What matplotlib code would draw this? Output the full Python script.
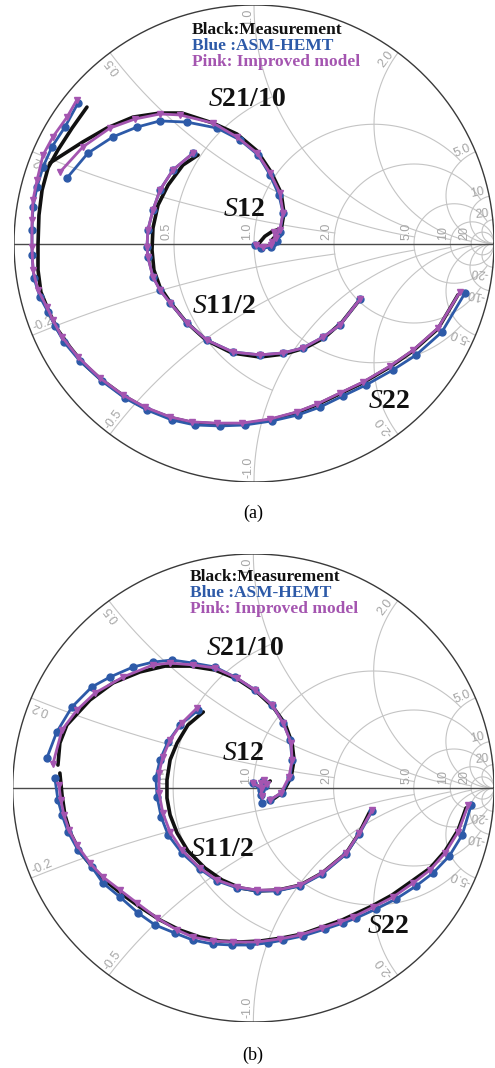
import numpy as np
import matplotlib.pyplot as plt

plt.rcParams['mathtext.fontset'] = 'custom'
plt.rcParams['mathtext.rm'] = 'Liberation Serif'
plt.rcParams['mathtext.it'] = 'Liberation Serif:italic'
plt.rcParams['mathtext.bf'] = 'Liberation Serif:bold'

# ---- data: reflection coefficients (re, im) ----
# chart (a)
A_S22_MEAS = [(-0.696, 0.572), (-0.758, 0.484), (-0.817, 0.392), (-0.858, 0.317), (-0.883, 0.224),
              (-0.896, 0.119), (-0.900, -0.006), (-0.900, -0.111), (-0.888, -0.203), (-0.854, -0.287),
              (-0.817, -0.363), (-0.767, -0.434), (-0.717, -0.497), (-0.642, -0.566), (-0.546, -0.637),
              (-0.454, -0.690), (-0.350, -0.730), (-0.258, -0.751), (-0.154, -0.757), (-0.050, -0.757),
              (0.067, -0.740), (0.179, -0.709), (0.263, -0.676), (0.358, -0.630), (0.454, -0.584),
              (0.567, -0.517), (0.663, -0.450), (0.767, -0.357), (0.850, -0.215)]
A_S22_ASM = [(-0.733, 0.589), (-0.788, 0.488), (-0.842, 0.405), (-0.879, 0.321), (-0.904, 0.237),
             (-0.921, 0.153), (-0.925, 0.057), (-0.925, -0.048), (-0.917, -0.145), (-0.892, -0.224),
             (-0.858, -0.287), (-0.829, -0.346), (-0.792, -0.413), (-0.725, -0.493), (-0.633, -0.577),
             (-0.538, -0.648), (-0.446, -0.698), (-0.342, -0.740), (-0.246, -0.761), (-0.142, -0.765),
             (-0.038, -0.761), (0.075, -0.744), (0.183, -0.719), (0.275, -0.686), (0.371, -0.639),
             (0.467, -0.593), (0.579, -0.530), (0.675, -0.468), (0.783, -0.371), (0.879, -0.208)]
A_S22_IMP = [(-0.738, 0.602), (-0.779, 0.530), (-0.838, 0.447), (-0.879, 0.371), (-0.904, 0.266),
             (-0.921, 0.182), (-0.925, 0.099), (-0.925, -0.015), (-0.921, -0.111), (-0.900, -0.195),
             (-0.863, -0.266), (-0.838, -0.321), (-0.800, -0.392), (-0.733, -0.476), (-0.642, -0.564),
             (-0.546, -0.635), (-0.454, -0.686), (-0.350, -0.727), (-0.258, -0.748), (-0.154, -0.753),
             (-0.050, -0.753), (0.067, -0.736), (0.179, -0.706), (0.263, -0.673), (0.358, -0.627),
             (0.454, -0.581), (0.567, -0.514), (0.663, -0.447), (0.767, -0.354), (0.858, -0.203)]

A_S21_MEAS = [(-0.850, 0.338), (-0.713, 0.426), (-0.613, 0.484), (-0.504, 0.530), (-0.392, 0.547),
              (-0.300, 0.547), (-0.171, 0.505), (-0.071, 0.459), (0.013, 0.388), (0.071, 0.300),
              (0.113, 0.212), (0.125, 0.128), (0.113, 0.057), (0.075, 0.015)]
A_S21_ASM = [(-0.779, 0.275), (-0.692, 0.379), (-0.588, 0.447), (-0.488, 0.488), (-0.392, 0.514),
             (-0.279, 0.509), (-0.154, 0.484), (-0.058, 0.434), (0.017, 0.371), (0.067, 0.287),
             (0.104, 0.203), (0.121, 0.128), (0.108, 0.048), (0.079, 0.002)]
A_S21_IMP = [(-0.808, 0.300), (-0.713, 0.405), (-0.600, 0.484), (-0.496, 0.522), (-0.392, 0.543),
             (-0.308, 0.539), (-0.171, 0.505), (-0.071, 0.447), (0.013, 0.379), (0.067, 0.296),
             (0.108, 0.212), (0.121, 0.128), (0.108, 0.057), (0.075, 0.006)]

A_S11_MEAS = [(-0.233, 0.371), (-0.296, 0.329), (-0.358, 0.245), (-0.400, 0.161), (-0.421, 0.065),
              (-0.425, -0.027), (-0.417, -0.111), (-0.392, -0.182), (-0.350, -0.245), (-0.283, -0.329),
              (-0.200, -0.405), (-0.092, -0.459), (0.025, -0.476), (0.129, -0.463), (0.213, -0.438),
              (0.292, -0.396), (0.367, -0.329), (0.433, -0.245)]
A_S11_ASM = [(-0.254, 0.379), (-0.338, 0.308), (-0.392, 0.224), (-0.421, 0.140), (-0.442, 0.057),
             (-0.446, -0.015), (-0.442, -0.057), (-0.421, -0.140), (-0.392, -0.195), (-0.350, -0.249),
             (-0.279, -0.333), (-0.196, -0.405), (-0.088, -0.455), (0.025, -0.467), (0.121, -0.459),
             (0.204, -0.438), (0.288, -0.392), (0.358, -0.342), (0.442, -0.233)]
A_S11_IMP = [(-0.254, 0.379), (-0.338, 0.308), (-0.392, 0.224), (-0.421, 0.140), (-0.442, 0.057),
             (-0.446, -0.015), (-0.442, -0.057), (-0.421, -0.140), (-0.392, -0.195), (-0.350, -0.249),
             (-0.279, -0.333), (-0.196, -0.405), (-0.088, -0.455), (0.025, -0.467), (0.121, -0.459),
             (0.204, -0.438), (0.288, -0.392), (0.358, -0.342), (0.442, -0.233)]

A_S12_MEAS = [(0.020, 0.000), (0.045, 0.030), (0.075, 0.050), (0.108, 0.061)]
A_S12_ASM = [(0.004, -0.006), (0.030, -0.020), (0.070, -0.015), (0.095, 0.010), (0.100, 0.040)]
A_S12_IMP = [(0.008, -0.006), (0.037, -0.015), (0.071, -0.006), (0.092, 0.025), (0.083, 0.050)]

# chart (b)
B_S22_MEAS = [(-0.804, 0.064), (-0.795, -0.030), (-0.783, -0.115), (-0.762, -0.188), (-0.720, -0.274),
              (-0.666, -0.342), (-0.608, -0.402), (-0.541, -0.457), (-0.471, -0.509), (-0.388, -0.564),
              (-0.305, -0.607), (-0.222, -0.637), (-0.138, -0.654), (-0.055, -0.658), (0.028, -0.654),
              (0.119, -0.641), (0.203, -0.624), (0.286, -0.594), (0.369, -0.564), (0.494, -0.504),
              (0.577, -0.457), (0.660, -0.397), (0.735, -0.342), (0.797, -0.269), (0.851, -0.179),
              (0.884, -0.085)]
B_S22_ASM = [(-0.825, 0.043), (-0.812, -0.051), (-0.795, -0.115), (-0.770, -0.188), (-0.729, -0.265),
             (-0.671, -0.338), (-0.625, -0.406), (-0.554, -0.466), (-0.479, -0.534), (-0.409, -0.585),
             (-0.326, -0.620), (-0.251, -0.650), (-0.168, -0.667), (-0.089, -0.671), (-0.014, -0.671),
             (0.061, -0.662), (0.124, -0.650), (0.207, -0.632), (0.298, -0.603), (0.373, -0.577),
             (0.427, -0.556), (0.510, -0.517), (0.593, -0.474), (0.676, -0.419), (0.747, -0.363),
             (0.814, -0.291), (0.868, -0.201), (0.905, -0.073)]
B_S22_IMP = [(-0.808, 0.013), (-0.800, -0.051), (-0.787, -0.115), (-0.766, -0.179), (-0.733, -0.244),
             (-0.679, -0.321), (-0.625, -0.380), (-0.554, -0.436), (-0.484, -0.491), (-0.400, -0.556),
             (-0.317, -0.607), (-0.251, -0.637), (-0.168, -0.654), (-0.084, -0.658), (0.015, -0.658),
             (0.111, -0.645), (0.194, -0.628), (0.286, -0.598), (0.361, -0.573), (0.415, -0.551),
             (0.498, -0.509), (0.581, -0.466), (0.664, -0.406), (0.735, -0.350), (0.797, -0.278),
             (0.851, -0.188), (0.893, -0.073)]

B_S21_MEAS = [(-0.812, 0.098), (-0.804, 0.192), (-0.775, 0.269), (-0.679, 0.376), (-0.583, 0.449),
              (-0.471, 0.496), (-0.367, 0.521), (-0.263, 0.521), (-0.159, 0.504), (-0.068, 0.466),
              (0.015, 0.410), (0.082, 0.346), (0.132, 0.274), (0.161, 0.192), (0.169, 0.120),
              (0.157, 0.047), (0.124, -0.017), (0.078, -0.051)]
B_S21_ASM = [(-0.858, 0.128), (-0.817, 0.239), (-0.754, 0.346), (-0.671, 0.432), (-0.596, 0.474),
             (-0.500, 0.517), (-0.417, 0.538), (-0.338, 0.547), (-0.251, 0.534), (-0.159, 0.517),
             (-0.076, 0.474), (0.007, 0.419), (0.078, 0.355), (0.124, 0.278), (0.153, 0.205),
             (0.161, 0.120), (0.153, 0.047), (0.119, -0.021), (0.069, -0.051)]
B_S21_IMP = [(-0.833, 0.103), (-0.795, 0.248), (-0.733, 0.333), (-0.658, 0.406), (-0.542, 0.474),
             (-0.417, 0.526), (-0.346, 0.534), (-0.251, 0.526), (-0.159, 0.513), (-0.068, 0.470),
             (0.007, 0.419), (0.078, 0.355), (0.124, 0.278), (0.157, 0.192), (0.161, 0.120),
             (0.148, 0.047), (0.115, -0.021), (0.069, -0.051)]

B_S11_MEAS = [(-0.208, 0.325), (-0.272, 0.269), (-0.317, 0.192), (-0.346, 0.120), (-0.359, 0.034),
              (-0.359, -0.043), (-0.346, -0.115), (-0.317, -0.192), (-0.272, -0.269), (-0.201, -0.342),
              (-0.130, -0.393), (-0.055, -0.427), (0.020, -0.440), (0.103, -0.436), (0.194, -0.415),
              (0.286, -0.363), (0.386, -0.278), (0.440, -0.192), (0.483, -0.103)]
B_S11_ASM = [(-0.229, 0.333), (-0.305, 0.269), (-0.355, 0.197), (-0.388, 0.120), (-0.405, 0.043),
             (-0.400, -0.038), (-0.383, -0.124), (-0.354, -0.201), (-0.297, -0.278), (-0.222, -0.347),
             (-0.151, -0.397), (-0.068, -0.427), (0.015, -0.440), (0.099, -0.440), (0.194, -0.419),
             (0.286, -0.368), (0.386, -0.282), (0.440, -0.197), (0.494, -0.098)]
B_S11_IMP = [(-0.234, 0.342), (-0.297, 0.278), (-0.346, 0.205), (-0.376, 0.133), (-0.392, 0.064),
             (-0.392, -0.021), (-0.376, -0.107), (-0.346, -0.188), (-0.297, -0.265), (-0.222, -0.342),
             (-0.151, -0.393), (-0.068, -0.423), (0.015, -0.436), (0.099, -0.436), (0.194, -0.415),
             (0.286, -0.363), (0.386, -0.278), (0.440, -0.192), (0.494, -0.094)]

B_S12_MEAS = [(0.000, 0.020), (0.030, 0.000), (0.050, 0.010), (0.070, 0.030)]
B_S12_ASM = [(0.000, 0.020), (0.030, -0.010), (0.050, 0.010), (0.040, 0.030), (0.030, -0.030), (0.037, -0.064)]
B_S12_IMP = [(0.000, 0.020), (0.035, 0.000), (0.055, 0.015), (0.045, 0.035), (0.030, 0.020), (0.035, -0.035)]

# smith grid values
GRID_R = [0.5, 1.0, 2.0, 5.0, 10.0, 20.0]
GRID_R_XMAX = [1.0, 5.0, 10.0, 20.0, np.inf, np.inf]
GRID_X = [0.2, 0.5, 1.0, 2.0, 5.0, 10.0, 20.0]
GRID_X_RMAX = [2.0, 5.0, 10.0, 20.0, np.inf, np.inf, np.inf]
R_LABELS = ["0.5", "1.0", "2.0", "5.0", "10", "20"]
X_LABELS = ["0.2", "0.5", "1.0", "2.0", "5.0", "10", "20"]

LEGEND_TXT = ["Black:Measurement", "Blue :ASM-HEMT", "Pink: Improved model"]
S_NAMES = [r"$\mathit{S}\mathbf{21/10}$", r"$\mathit{S}\mathbf{12}$",
           r"$\mathit{S}\mathbf{11/2}$", r"$\mathit{S}\mathbf{22}$"]

BLACK = "#111111"
BLUE = "#2d5aa8"
PINK = "#a455b0"
GRID_C = "#c4c4c4"
LABEL_C = "#a5a5a5"


def _gamma(z):
    return (z - 1) / (z + 1)


def draw_smith_grid(ax):
    for r, xmax in zip(GRID_R, GRID_R_XMAX):
        t = np.linspace(-np.arctan(xmax), np.arctan(xmax), 600)
        g = _gamma(r + 1j * np.tan(t))
        ax.plot(g.real, g.imag, color=GRID_C, lw=0.8, zorder=1)
    for xv, rmax in zip(GRID_X, GRID_X_RMAX):
        u = np.linspace(0, np.arctan(rmax), 600)
        for s in (1, -1):
            g = _gamma(np.tan(u) + 1j * s * xv)
            ax.plot(g.real, g.imag, color=GRID_C, lw=0.8, zorder=1)

    th = np.linspace(0, 2 * np.pi, 720)
    ax.plot(np.cos(th), np.sin(th), color="#3a3a3a", lw=1.0, zorder=2)
    ax.plot([-1, 1], [0, 0], color="#4a4a4a", lw=1.0, zorder=2)

    # resistance labels along the real axis
    for r, lab in zip(GRID_R, R_LABELS):
        g0 = (r - 1) / (r + 1)
        ax.text(g0 - 0.005, 0.016, lab, rotation=90, rotation_mode="anchor",
                ha="left", va="bottom", fontsize=9, color=LABEL_C,
                family="Liberation Sans", zorder=3)

    # reactance labels on the rim
    for xv, lab in zip(GRID_X, X_LABELS):
        th = np.pi - 2 * np.arctan(xv)
        p = 0.985 * np.array([np.cos(th), np.sin(th)])
        ax.text(p[0], p[1], lab, rotation=np.degrees(th), rotation_mode="anchor",
                ha="right", va="bottom", fontsize=9, color=LABEL_C,
                family="Liberation Sans", zorder=3)
        p = 0.985 * np.array([np.cos(-th), -np.sin(th)])
        ax.text(p[0], p[1], "-" + lab, rotation=np.degrees(-th) + 180, rotation_mode="anchor",
                ha="left", va="bottom", fontsize=9, color=LABEL_C,
                family="Liberation Sans", zorder=3)


def plot_trace(ax, pts, kind):
    a = np.array(pts)
    if kind == "meas":
        ax.plot(a[:, 0], a[:, 1], color=BLACK, lw=2.6, zorder=4, solid_capstyle="round")
    elif kind == "asm":
        ax.plot(a[:, 0], a[:, 1], color=BLUE, lw=2.0, marker="o", ms=5.0, zorder=5)
    else:
        ax.plot(a[:, 0], a[:, 1], color=PINK, lw=2.0, marker="v", ms=5.0, zorder=6)


def draw_chart(ax, traces, lab_pos, leg_pos):
    draw_smith_grid(ax)
    for pts, kind in traces:
        plot_trace(ax, pts, kind)
    for name, (x, y) in zip(S_NAMES, lab_pos):
        ax.text(x, y, name, fontsize=20, ha="left", va="center", color=BLACK, zorder=7)
    for i, (txt, c) in enumerate(zip(LEGEND_TXT, [BLACK, BLUE, PINK])):
        ax.text(leg_pos[0], leg_pos[1] - i * 0.068, txt, fontsize=12.5, fontweight="bold",
                family="Liberation Serif", color=c, ha="left", va="center", zorder=7)
    ax.set_xlim(-1, 1)
    ax.set_ylim(-1, 1)
    ax.axis("off")


fig = plt.figure(figsize=(4.95, 10.68), dpi=100)
ax_a = fig.add_axes([14 / 495, 1 - 482 / 1068, 480 / 495, 477 / 1068])
ax_b = fig.add_axes([12.7 / 495, 1 - 1022 / 1068, 481.3 / 495, 468 / 1068])

draw_chart(ax_a,
           [(A_S22_MEAS, "meas"), (A_S21_MEAS, "meas"), (A_S11_MEAS, "meas"), (A_S12_MEAS, "meas"),
            (A_S22_ASM, "asm"), (A_S21_ASM, "asm"), (A_S11_ASM, "asm"), (A_S12_ASM, "asm"),
            (A_S22_IMP, "imp"), (A_S21_IMP, "imp"), (A_S11_IMP, "imp"), (A_S12_IMP, "imp")],
           [(-0.192, 0.61), (-0.129, 0.15), (-0.258, -0.258), (0.475, -0.656)],
           (-0.258, 0.895))
draw_chart(ax_b,
           [(B_S22_MEAS, "meas"), (B_S21_MEAS, "meas"), (B_S11_MEAS, "meas"), (B_S12_MEAS, "meas"),
            (B_S22_ASM, "asm"), (B_S21_ASM, "asm"), (B_S11_ASM, "asm"), (B_S12_ASM, "asm"),
            (B_S22_IMP, "imp"), (B_S21_IMP, "imp"), (B_S11_IMP, "imp"), (B_S12_IMP, "imp")],
           [(-0.197, 0.603), (-0.130, 0.152), (-0.263, -0.256), (0.473, -0.585)],
           (-0.263, 0.902))

fig.text(253 / 495, 1 - 513 / 1068, "(a)", ha="center", va="center", fontsize=13,
         family="Liberation Serif")
fig.text(253 / 495, 1 - 1055 / 1068, "(b)", ha="center", va="center", fontsize=13,
         family="Liberation Serif")

fig.savefig("out.png", dpi=100)
